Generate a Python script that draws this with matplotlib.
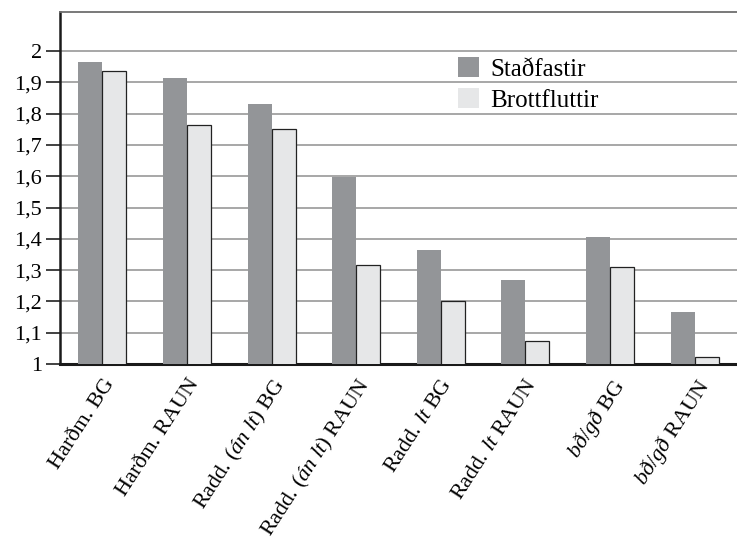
import matplotlib
matplotlib.use("Agg")
import matplotlib.pyplot as plt
import numpy as np
from matplotlib.patches import Patch

categories = ["Harðm. BG", "Harðm. RAUN",
              r"Radd. $\mathit{(án\ lt)}$ BG", r"Radd. $\mathit{(án\ lt)}$ RAUN",
              r"Radd. $\mathit{lt}$ BG", r"Radd. $\mathit{lt}$ RAUN",
              r"$\mathit{bð/gð}$ BG", r"$\mathit{bð/gð}$ RAUN"]
stadfastir = [1.965, 1.915, 1.832, 1.598, 1.365, 1.268, 1.405, 1.166]
brottfluttir = [1.935, 1.765, 1.752, 1.316, 1.200, 1.075, 1.310, 1.022]
series_names = ["Staðfastir", "Brottfluttir"]
yticks = [1.0, 1.1, 1.2, 1.3, 1.4, 1.5, 1.6, 1.7, 1.8, 1.9, 2.0]
ytick_labels = ["1", "1,1", "1,2", "1,3", "1,4", "1,5", "1,6", "1,7", "1,8", "1,9", "2"]

plt.rcParams['font.family'] = ['Liberation Serif', 'DejaVu Serif']
plt.rcParams['mathtext.fontset'] = 'custom'
plt.rcParams['mathtext.rm'] = 'Liberation Serif'
plt.rcParams['mathtext.it'] = 'Liberation Serif:italic'

dark = '#939598'
light = '#e6e7e8'

fig = plt.figure(figsize=(7.37, 5.46), dpi=100)
ax = fig.add_axes([60/737, 182/546, 677/737, 352/546])

x = np.arange(len(categories))
w = 0.284
ax.bar(x - w/2, stadfastir, width=w, bottom=0, color=dark, edgecolor='none', zorder=3)
ax.bar(x + w/2, brottfluttir, width=w, bottom=0, color=light, edgecolor='#222222', linewidth=0.9, zorder=3)

ax.set_xlim(-0.5, len(categories) - 0.5)
ax.set_ylim(1.0, 2.125)
ax.set_yticks(yticks)
ax.set_yticklabels(ytick_labels, fontsize=16)
ax.tick_params(axis='y', length=10, width=1.3, color='#333333', pad=3)
ax.set_xticks(x)
ax.set_xticklabels(categories, rotation=57, ha='right', va='top', rotation_mode='anchor', fontsize=16)
ax.tick_params(axis='x', length=0, pad=8)

for yv in yticks[1:]:
    ax.axhline(yv, color='#8f8f8f', lw=1.1, zorder=1)

ax.spines['left'].set_linewidth(1.8)
ax.spines['left'].set_color('#1a1a1a')
ax.spines['bottom'].set_linewidth(2.2)
ax.spines['bottom'].set_color('#1a1a1a')
ax.spines['top'].set_linewidth(1.3)
ax.spines['top'].set_color('#6e6e6e')
ax.spines['right'].set_visible(False)

handles = [Patch(facecolor=dark, edgecolor='none'), Patch(facecolor=light, edgecolor='none')]
ax.legend(handles, series_names, loc='upper left', bbox_to_anchor=(0.588, 0.872),
          frameon=False, fontsize=18, handlelength=0.85, handleheight=0.85,
          handletextpad=0.45, borderpad=0, borderaxespad=0, labelspacing=0.3)

fig.savefig('out.png', dpi=100)
